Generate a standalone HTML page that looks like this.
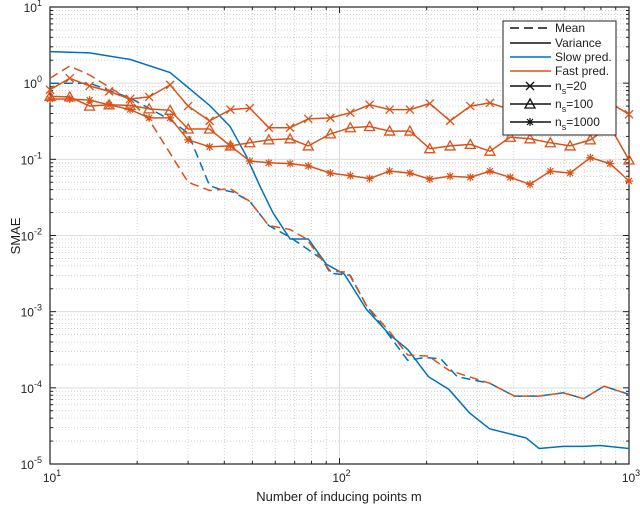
<!DOCTYPE html>
<html><head><meta charset="utf-8"><style>
html,body{margin:0;padding:0;background:#fff;}
svg{display:block;font-family:"Liberation Sans",sans-serif;}
</style></head><body>
<svg id="chart" width="640" height="507" viewBox="0 0 640 507" xmlns="http://www.w3.org/2000/svg"></svg>
<script>
const slowVarM=[10,13.7,18.9,26,35.6,41.9,47.7,53,58.9,67.5,78,90,104,124,149,172,203,239,281,330,402,441,489,593,697,795,1000];
const slowVarV=[2.6,2.5,2.05,1.38,0.51,0.27,0.11,0.045,0.02,0.009,0.009,0.0042,0.0031,0.00107,5e-4,3.2e-4,1.4e-4,9.5e-5,4.7e-5,2.9e-5,2.4e-5,2.2e-5,1.6e-5,1.7e-5,1.7e-5,1.75e-5,1.6e-5];
const slowMeanM=[10,13.7,18.9,26,30,35.6,39,43,49,57,67.5,87,93,109,124,146,172,197,224,255,330,402,489,593,697,820,1000];
const slowMeanV=[1.0,1.0,0.64,0.33,0.22,0.045,0.04,0.037,0.028,0.0135,0.0095,0.0049,0.0032,0.003,0.0012,5.3e-4,2.3e-4,2.5e-4,2.4e-4,1.4e-4,1.15e-4,7.8e-5,7.8e-5,8.6e-5,7.2e-5,1.05e-4,8.2e-5];
const fastMeanM=[10,11.7,13.7,18.9,22,26,30,35.6,42,49,57,67.5,77,93,107,124,150,172,203,239,330,402,489,593,697,820,1000];
const fastMeanV=[1.16,1.68,1.28,0.6,0.33,0.12,0.05,0.039,0.041,0.028,0.0135,0.012,0.009,0.0034,0.0033,0.0012,5.3e-4,2.7e-4,2.6e-4,1.7e-4,1.15e-4,7.8e-5,7.8e-5,8.6e-5,7.2e-5,1.05e-4,8.2e-5];
const nsM=[10,11.7,13.7,16,18.9,22,26,30,35.6,42,49,57,67.5,78,93,109,127,149,175,205,241,283,331,389,455,535,626,735,860,1000];
const ns20V=[0.82,1.16,0.92,0.78,0.62,0.66,0.95,0.5,0.32,0.45,0.47,0.26,0.26,0.34,0.35,0.41,0.52,0.45,0.45,0.54,0.32,0.5,0.55,0.45,0.5,0.55,0.5,0.55,0.55,0.39];
const ns100V=[0.67,0.66,0.5,0.52,0.51,0.46,0.44,0.25,0.25,0.15,0.165,0.18,0.186,0.15,0.216,0.26,0.27,0.235,0.235,0.138,0.15,0.157,0.128,0.195,0.186,0.165,0.15,0.18,0.27,0.098];
const ns1000V=[0.62,0.62,0.6,0.52,0.45,0.35,0.35,0.18,0.146,0.15,0.095,0.09,0.088,0.082,0.066,0.061,0.056,0.07,0.066,0.055,0.06,0.058,0.07,0.058,0.047,0.07,0.066,0.105,0.088,0.052];
const legendLabels=["Mean","Variance","Slow pred.","Fast pred.","n_s=20","n_s=100","n_s=1000"];

const L=50,R=629,T=7,B=464;
const NS="http://www.w3.org/2000/svg";
const svg=document.getElementById('chart');
function X(m){return L+(Math.log10(m)-1)/2*(R-L);}
function Y(v){return T+(1-Math.log10(v))/6*(B-T);}
function el(tag,attrs,parent){const e=document.createElementNS(NS,tag);for(const k in attrs)e.setAttribute(k,attrs[k]);(parent||svg).appendChild(e);return e;}
const BLUE="#0072BD",ORANGE="#D95319";

// grid
const grid=el('g',{});


for(let d=1;d<=2;d++){for(let k=1;k<10;k++){const m=Math.pow(10,d)*k;if(m>1000)break;const x=X(m);
 if(k===1){if(d>1)el('line',{x1:x,x2:x,y1:T,y2:B,stroke:'#dcdcdc','stroke-width':1},grid);}
 else el('line',{x1:x,x2:x,y1:T,y2:B,stroke:'#c8c8c8','stroke-width':0.8,'stroke-dasharray':'1,2'},grid);
 // ticks
 const tl=k===1?6:3;
 el('line',{x1:x,x2:x,y1:B,y2:B-tl,stroke:'#222'},grid);el('line',{x1:x,x2:x,y1:T,y2:T+tl,stroke:'#222'},grid);}}
for(let d=-5;d<=0;d++){for(let k=1;k<10;k++){const v=Math.pow(10,d)*k;const y=Y(v);
 if(k===1){if(d>-5)el('line',{x1:L,x2:R,y1:y,y2:y,stroke:'#dcdcdc','stroke-width':1},grid);}
 else el('line',{x1:L,x2:R,y1:y,y2:y,stroke:'#c8c8c8','stroke-width':0.8,'stroke-dasharray':'1,2'},grid);
 const tl=k===1?6:3;
 el('line',{x1:L,x2:L+tl,y1:y,y2:y,stroke:'#222'},grid);el('line',{x1:R,x2:R-tl,y1:y,y2:y,stroke:'#222'},grid);}}
const frame=el('rect',{x:L,y:T,width:R-L,height:B-T,fill:'none',stroke:'#222','stroke-width':1.2});



// tick labels
for(let e=-5;e<=1;e++){const t=el('text',{x:L-8,y:Y(Math.pow(10,e))+5,'text-anchor':'end','font-size':12,fill:'#222'});
 
 
 t.appendChild(document.createTextNode('10'));const s=el('tspan',{dy:-6,'font-size':9},t);s.textContent=String(e);}
for(let e=1;e<=3;e++){const t=el('text',{x:X(Math.pow(10,e))+2,y:B+18,'text-anchor':'middle','font-size':12,fill:'#222'});
 
 
 t.appendChild(document.createTextNode('10'));const s=el('tspan',{dy:-6,'font-size':9},t);s.textContent=String(e);}
const xt=el('text',{x:339,y:501,'text-anchor':'middle','font-size':13,fill:'#222'});xt.textContent='Number of inducing points m';


const yt=el('text',{x:0,y:0,transform:'translate(20,236) rotate(-90)','text-anchor':'middle','font-size':13,fill:'#222'});yt.textContent='SMAE';



// series
function line(ms,vs,color,dash,name){const p=ms.map((m,i)=>X(m).toFixed(1)+','+Y(vs[i]).toFixed(1)).join(' ');
 const e=el('polyline',{points:p,fill:'none',stroke:color,'stroke-width':1.5,'stroke-dasharray':dash||'none'});
 
 return e;}
function marker(g,x,y,type,color){
 if(type==='x'){el('path',{d:`M${x-4},${y-4}L${x+4},${y+4}M${x-4},${y+4}L${x+4},${y-4}`,stroke:color,'stroke-width':1.3,fill:'none'},g);}
 else if(type==='tri'){el('path',{d:`M${x},${y-5}L${x+5},${y+4}L${x-5},${y+4}Z`,stroke:color,'stroke-width':1.3,fill:'none'},g);}
 else {el('path',{d:`M${x-4},${y}L${x+4},${y}M${x},${y-4}L${x},${y+4}M${x-3},${y-3}L${x+3},${y+3}M${x-3},${y+3}L${x+3},${y-3}`,stroke:color,'stroke-width':1.2,fill:'none'},g);}}
line(slowVarM,slowVarV,BLUE,null,'slow-variance-line');
line(slowMeanM,slowMeanV,BLUE,'9,5','slow-mean-line');
line(fastMeanM,fastMeanV,ORANGE,'9,5','fast-mean-line');
[[ns20V,'x','fast-variance-ns20'],[ns100V,'tri','fast-variance-ns100'],[ns1000V,'star','fast-variance-ns1000']].forEach(([vs,t,n])=>{
 line(nsM,vs,ORANGE,null,n+'-line');
 const g=el('g',{});
 
 
 nsM.forEach((m,i)=>marker(g,X(m),Y(vs[i]),t,ORANGE));});

// legend
const lg=el('g',{});


el('rect',{x:503,y:21,width:113,height:114,fill:'#fff',stroke:'#222','stroke-width':1},lg);
const ly=[28,43,57,71,86,104,122];
const lcol=['#111','#111',BLUE,ORANGE,'#111','#111','#111'];
const mk=[null,null,null,null,'x','tri','star'];
legendLabels.forEach((lab,i)=>{
 const g=el('g',{},lg);
 
 
 el('line',{x1:510,x2:551,y1:ly[i],y2:ly[i],stroke:lcol[i],'stroke-width':1.5,'stroke-dasharray':i===0?'9,5':'none'},g);
 if(mk[i])marker(g,530,ly[i],mk[i],'#111');
 const t=el('text',{x:555,y:ly[i]+4,'font-size':12,fill:'#222'},g);
 if(lab.startsWith('n_s')){t.appendChild(document.createTextNode('n'));const s=el('tspan',{dy:4,'font-size':9},t);s.textContent='s';const r=el('tspan',{dy:-4},t);r.textContent=lab.slice(3);}
 else t.textContent=lab;});
</script>
</body></html>
